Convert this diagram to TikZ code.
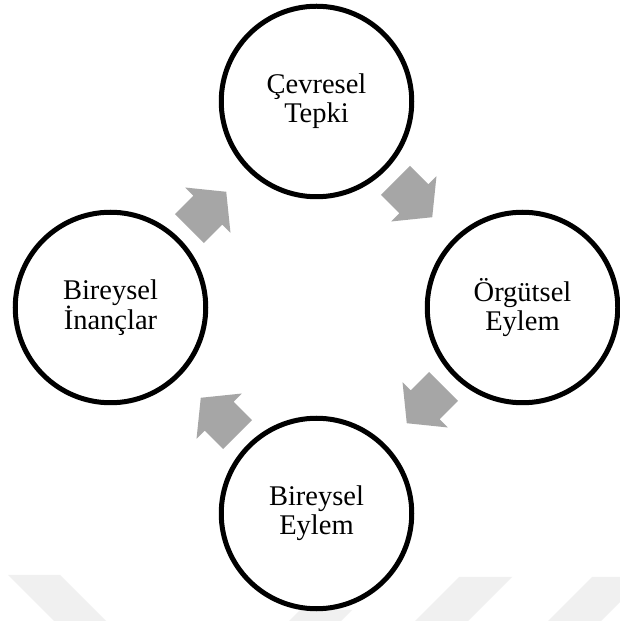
\documentclass[tikz,border=0pt]{standalone}
\usepackage{fontspec}
\setmainfont{Liberation Serif}
\usetikzlibrary{calc}
\definecolor{arrowgray}{HTML}{A6A6A6}
\definecolor{wmgray}{HTML}{F0F0F0}
\begin{document}
\begin{tikzpicture}[x=1pt,y=1pt,
  stage/.style={circle, draw=black, line width=5pt, minimum size=190.5pt,
    inner sep=0pt, align=center, font=\fontsize{28.5}{29}\selectfont},
  cyclearrow/.pic={
    \fill[arrowgray] (-34,20.5) -- (-8,20.5) -- (-8,32) -- (18,0)
      -- (-8,-32) -- (-8,-20.5) -- (-34,-20.5) -- cycle;},
  wmshape/.style={fill=wmgray}
]
% page frame
\fill[white] (0,0) rectangle (619,621);
\useasboundingbox (0,0) rectangle (619,621);

% faint background stripes along the lower edge
\path[wmshape] (8,46) -- (60,46) -- (106,0) -- (54,0) -- cycle;
\path[wmshape] (300,11) -- (352,11) -- (341,0) -- (289,0) -- cycle;
\path[wmshape] (459,44) -- (512,44) -- (468,0) -- (415,0) -- cycle;
\path[wmshape] (592,44) -- (645,44) -- (601,0) -- (548,0) -- cycle;

% the four stages of the cycle
\node[stage] (tepki)    at (316.5,519.5) {Çevresel\\Tepki};
\node[stage] (orgutsel) at (522.5,313.5) {Örgütsel\\Eylem};
\node[stage] (eylem)    at (316.5,107.5) {Bireysel\\Eylem};
\node[stage] (inanc)    at (110.5,313.5) {Bireysel\\İnançlar};

% block arrows running clockwise between the stages
\pic[rotate=45]   at ($(inanc.center)!0.5!(tepki.center)$)    {cyclearrow};
\pic[rotate=-45]  at ($(tepki.center)!0.5!(orgutsel.center)$) {cyclearrow};
\pic[rotate=-135] at ($(orgutsel.center)!0.5!(eylem.center)$) {cyclearrow};
\pic[rotate=135]  at ($(eylem.center)!0.5!(inanc.center)$)    {cyclearrow};
\end{tikzpicture}
\end{document}
